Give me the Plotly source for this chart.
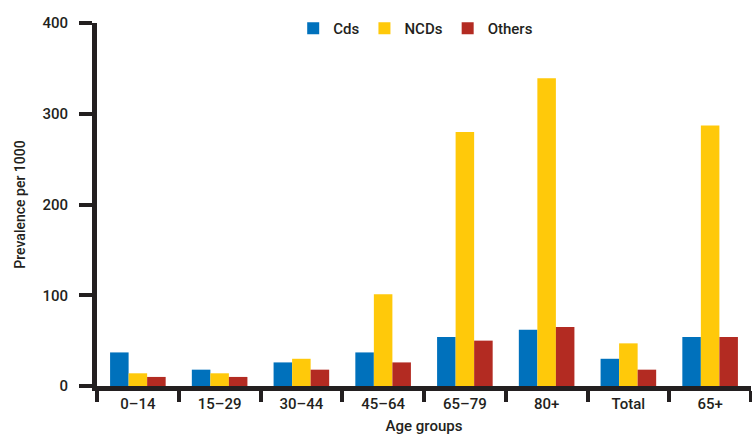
import plotly.graph_objects as go

categories = ["0–14", "15–29", "30–44", "45–64", "65–79", "80+", "Total", "65+"]
cds = [37, 18, 26, 37, 54, 62, 30, 54]
ncds = [14, 14, 30, 101, 280, 339, 47, 287]
others = [10, 10, 18, 26, 50, 65, 18, 54]
y_ticks = [0, 100, 200, 300, 400]

TXT = "#231f20"
FONT = "Roboto"

fig = go.Figure()
fig.add_trace(go.Bar(name="Cds", x=categories, y=cds, marker_color="#0071bc", marker_line_width=0))
fig.add_trace(go.Bar(name="NCDs", x=categories, y=ncds, marker_color="#ffc90a", marker_line_width=0))
fig.add_trace(go.Bar(name="Others", x=categories, y=others, marker_color="#b32b22", marker_line_width=0))

fig.update_layout(
    width=752, height=435,
    margin=dict(l=97, r=1, t=23, b=49, autoexpand=False),
    paper_bgcolor="white", plot_bgcolor="white",
    barmode="group", bargap=0.32, bargroupgap=0,
    font=dict(family=FONT, size=15, color=TXT, weight=500),
    legend=dict(orientation="h", x=0.30, y=1.03, xanchor="left", yanchor="top",
                font=dict(size=15, color=TXT, weight=500), bgcolor="rgba(0,0,0,0)"),
    showlegend=True,
)
fig.update_xaxes(
    type="category", showline=True, linecolor=TXT, linewidth=5, automargin=False,
    ticks="outside", tickson="boundaries", ticklen=11, tickwidth=4, tickcolor=TXT,
    showgrid=False, zeroline=False,
    title=dict(text="Age groups", font=dict(size=15, color=TXT, weight=500)),
    tickfont=dict(size=15, color=TXT, weight=500),
)
fig.update_yaxes(
    range=[0, 400], tickvals=y_ticks, showline=True, linecolor=TXT, linewidth=5, automargin=False,
    ticks="outside", ticklen=13, tickwidth=4, tickcolor=TXT,
    showgrid=False, zeroline=False, ticklabelstandoff=8,
    title=dict(text="Prevalence per 1000", font=dict(size=14, color=TXT, weight=500)),
    tickfont=dict(size=15, color=TXT, weight=500),
)
fig.write_html("out.html", config={"displayModeBar": False},
               post_script="document.body.style.margin='0';")
